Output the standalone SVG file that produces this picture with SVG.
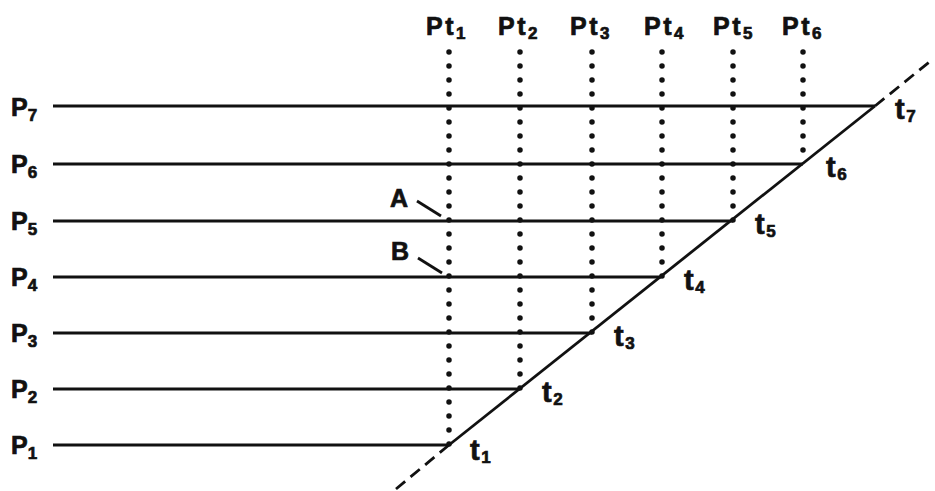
<svg xmlns="http://www.w3.org/2000/svg" width="935" height="491" viewBox="0 0 935 491">
<style>
  .ln{stroke:#111;stroke-width:2.8;fill:none;stroke-linecap:butt}
  .dash{stroke:#111;stroke-width:2.8;fill:none;stroke-dasharray:12 7}
  .dot{stroke:#111;stroke-width:5.5;fill:none;stroke-linecap:round;stroke-dasharray:0 14}
  .lab{font-family:"Liberation Sans",Arial,sans-serif;font-weight:bold;font-size:25px;fill:#111;stroke:#111;stroke-width:0.7}
  .tl{font-family:"Liberation Sans",Arial,sans-serif;font-weight:bold;font-size:29px;fill:#111;stroke:#111;stroke-width:0.7}
  .sub{font-size:17px}
</style>
<rect width="935" height="491" fill="#fff"/>
<g id="rows">
  <g id="P7"><text class="lab" x="11" y="116">P<tspan class="sub" dy="5">7</tspan></text></g>
  <g id="P6"><text class="lab" x="11" y="173">P<tspan class="sub" dy="5">6</tspan></text></g>
  <g id="P5"><text class="lab" x="11" y="230">P<tspan class="sub" dy="5">5</tspan></text></g>
  <g id="P4"><text class="lab" x="11" y="286">P<tspan class="sub" dy="5">4</tspan></text></g>
  <g id="P3"><text class="lab" x="11" y="342">P<tspan class="sub" dy="5">3</tspan></text></g>
  <g id="P2"><text class="lab" x="11" y="398">P<tspan class="sub" dy="5">2</tspan></text></g>
  <g id="P1"><text class="lab" x="11" y="454">P<tspan class="sub" dy="5">1</tspan></text></g>
</g>
<g id="columns">
  <g id="Pt1"><text class="lab" x="426" y="35" letter-spacing="2.5">Pt<tspan class="sub" dy="4">1</tspan></text></g>
  <g id="Pt2"><text class="lab" x="498" y="35" letter-spacing="2.5">Pt<tspan class="sub" dy="4">2</tspan></text></g>
  <g id="Pt3"><text class="lab" x="570" y="35" letter-spacing="2.5">Pt<tspan class="sub" dy="4">3</tspan></text></g>
  <g id="Pt4"><text class="lab" x="644" y="35" letter-spacing="2.5">Pt<tspan class="sub" dy="4">4</tspan></text></g>
  <g id="Pt5"><text class="lab" x="713" y="35" letter-spacing="2.5">Pt<tspan class="sub" dy="4">5</tspan></text></g>
  <g id="Pt6"><text class="lab" x="782" y="35" letter-spacing="2.5">Pt<tspan class="sub" dy="4">6</tspan></text></g>
</g>
<g id="times">
  <g id="t1"><text class="tl" x="470" y="460" letter-spacing="1.5">t<tspan class="sub" dy="3">1</tspan></text></g>
  <g id="t2"><text class="tl" x="542" y="402" letter-spacing="1.5">t<tspan class="sub" dy="3">2</tspan></text></g>
  <g id="t3"><text class="tl" x="614" y="346" letter-spacing="1.5">t<tspan class="sub" dy="3">3</tspan></text></g>
  <g id="t4"><text class="tl" x="684" y="290" letter-spacing="1.5">t<tspan class="sub" dy="3">4</tspan></text></g>
  <g id="t5"><text class="tl" x="755" y="234" letter-spacing="1.5">t<tspan class="sub" dy="3">5</tspan></text></g>
  <g id="t6"><text class="tl" x="826" y="177" letter-spacing="1.5">t<tspan class="sub" dy="3">6</tspan></text></g>
  <g id="t7"><text class="tl" x="895" y="119" letter-spacing="1.5">t<tspan class="sub" dy="3">7</tspan></text></g>
</g>
<g id="A"><text class="lab" x="390" y="207">A</text></g>
<g id="B"><text class="lab" x="391" y="260">B</text></g>
<g id="connectors">
  <line class="ln" x1="53" y1="106" x2="875" y2="106"/>
  <line class="ln" x1="53" y1="164" x2="803" y2="164"/>
  <line class="ln" x1="53" y1="221" x2="733" y2="221"/>
  <line class="ln" x1="53" y1="277" x2="661" y2="277"/>
  <line class="ln" x1="53" y1="333" x2="592" y2="333"/>
  <line class="ln" x1="53" y1="389" x2="520" y2="389"/>
  <line class="ln" x1="53" y1="445" x2="449" y2="445"/>
  <line class="ln" x1="449" y1="445" x2="875" y2="106"/>
  <line class="dash" x1="449" y1="445" x2="396" y2="489"/>
  <line class="dash" x1="875" y1="106" x2="933" y2="59"/>
  <line class="dot" x1="449" y1="52" x2="449" y2="445"/>
  <line class="dot" x1="520" y1="52" x2="520" y2="389"/>
  <line class="dot" x1="592" y1="52" x2="592" y2="333"/>
  <line class="dot" x1="662" y1="52" x2="662" y2="277"/>
  <line class="dot" x1="733" y1="52" x2="733" y2="221"/>
  <line class="dot" x1="803" y1="52" x2="803" y2="164"/>
  <line class="ln" x1="417" y1="201" x2="441" y2="216"/>
  <line class="ln" x1="418" y1="258" x2="442" y2="273"/>
</g>
</svg>
